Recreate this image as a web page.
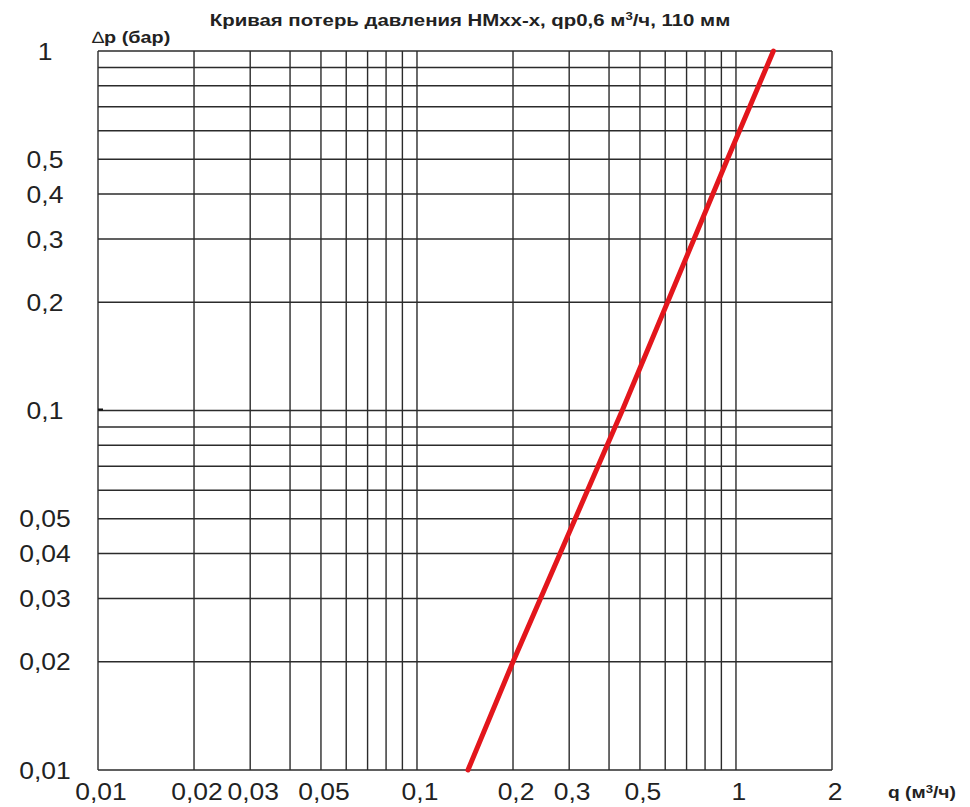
<!DOCTYPE html>
<html>
<head>
<meta charset="utf-8">
<script src="https://cdn.jsdelivr.net/npm/d3@7"></script>
<style>
  body { margin: 0; background: #fff; }
  svg { display: block; font-family: "Liberation Sans", Arial, sans-serif; }
</style>
</head>
<body>
<div id="chart"></div>
<script>
const chartWidth = 970;
const chartHeight = 807;
const chartMargin = { top: 51, right: 138, bottom: 37, left: 98 };

// curve: flow q (m3/h) vs pressure loss dp (bar)
const flowValues = [0.1445, 0.2, 0.44, 0.94, 1.31];
const lossValues = [0.01, 0.02, 0.1, 0.5, 1];

const xGridValues = [0.01, 0.02, 0.03, 0.04, 0.05, 0.06, 0.07, 0.08, 0.09, 0.1,
  0.2, 0.3, 0.4, 0.5, 0.6, 0.7, 0.8, 0.9, 1, 2];
const yGridValues = [0.01, 0.02, 0.03, 0.04, 0.05, 0.06, 0.07, 0.08, 0.09, 0.1,
  0.2, 0.3, 0.4, 0.5, 0.6, 0.7, 0.8, 0.9, 1];
const xTickValues = [0.01, 0.02, 0.03, 0.05, 0.1, 0.2, 0.3, 0.5, 1, 2];
const yTickValues = [1, 0.5, 0.4, 0.3, 0.2, 0.1, 0.05, 0.04, 0.03, 0.02, 0.01];

const formatComma = (v) => String(v).replace(".", ",");

const svg = d3
  .select("#chart")
  .append("svg")
  .attr("width", chartWidth)
  .attr("height", chartHeight);

const x = d3
  .scaleLog()
  .domain([0.01, 2])
  .range([chartMargin.left, chartWidth - chartMargin.right]);

const y = d3
  .scaleLog()
  .domain([0.01, 1])
  .range([chartHeight - chartMargin.bottom, chartMargin.top]);

const gridColor = "#2b2b2b";

// vertical grid lines
svg
  .append("g")
  .selectAll("line")
  .data(xGridValues)
  .join("line")
  .attr("x1", (d) => x(d))
  .attr("x2", (d) => x(d))
  .attr("y1", y(0.01))
  .attr("y2", y(1))
  .attr("stroke", gridColor)
  .attr("stroke-width", 1.4);

// horizontal grid lines
svg
  .append("g")
  .selectAll("line")
  .data(yGridValues)
  .join("line")
  .attr("x1", x(0.01))
  .attr("x2", x(2))
  .attr("y1", (d) => y(d))
  .attr("y2", (d) => y(d))
  .attr("stroke", gridColor)
  .attr("stroke-width", 1.5);

// small stub at 0.1 on the left edge
svg
  .append("line")
  .attr("x1", x(0.01))
  .attr("x2", x(0.01) + 5)
  .attr("y1", y(0.1) - 1)
  .attr("y2", y(0.1) - 1)
  .attr("stroke", "#111")
  .attr("stroke-width", 2);

// the reference text is drawn a little wider than the font, so stretch it
const tickStretch = 1.08;

// x tick labels
svg
  .append("g")
  .selectAll("text")
  .data(xTickValues)
  .join("text")
  .attr("transform", (d) => `translate(${x(d) + 3},800) scale(${tickStretch},1)`)
  .attr("text-anchor", "middle")
  .attr("font-size", 24.5)
  .attr("fill", "#222")
  .text(formatComma);

// y tick labels
svg
  .append("g")
  .selectAll("text")
  .data(yTickValues)
  .join("text")
  .attr("transform", (d) => `translate(45,${y(d)}) scale(${tickStretch},1)`)
  .attr("dy", "0.35em")
  .attr("text-anchor", "middle")
  .attr("font-size", 24.5)
  .attr("fill", "#222")
  .text(formatComma);

// the loss curve
const curvePoints = flowValues.map((q, i) => [q, lossValues[i]]);

svg
  .append("path")
  .datum(curvePoints)
  .attr("fill", "none")
  .attr("stroke", "#e3161c")
  .attr("stroke-width", 5)
  .attr("stroke-linecap", "round")
  .attr(
    "d",
    d3
      .line()
      .x((d) => x(d[0]))
      .y((d) => y(d[1])),
  );

// title
const title = svg
  .append("text")
  .attr("transform", "translate(470,26) scale(1.2,1)")
  .attr("text-anchor", "middle")
  .attr("font-size", 17)
  .attr("font-weight", "bold")
  .attr("fill", "#222");
title.append("tspan").text("Кривая потерь давления HMxx-x, qp0,6 м");
title.append("tspan").attr("font-size", 11).attr("dy", -6).text("3");
title.append("tspan").attr("dy", 6).text("/ч, 110 мм");

// y axis title
const yTitle = svg
  .append("text")
  .attr("transform", "translate(92,43) scale(1.2,1)")
  .attr("font-size", 16.5)
  .attr("fill", "#222");
yTitle.append("tspan").text("∆");
yTitle.append("tspan").attr("font-weight", "bold").text("p (бар)");

// x axis title
const xTitle = svg
  .append("text")
  .attr("transform", "translate(888,798) scale(1.2,1)")
  .attr("font-size", 16)
  .attr("font-weight", "bold")
  .attr("fill", "#222");
xTitle.append("tspan").text("q (м");
xTitle.append("tspan").attr("font-size", 11).attr("dy", -5).text("3");
xTitle.append("tspan").attr("dy", 5).text("/ч)");
</script>
</body>
</html>
